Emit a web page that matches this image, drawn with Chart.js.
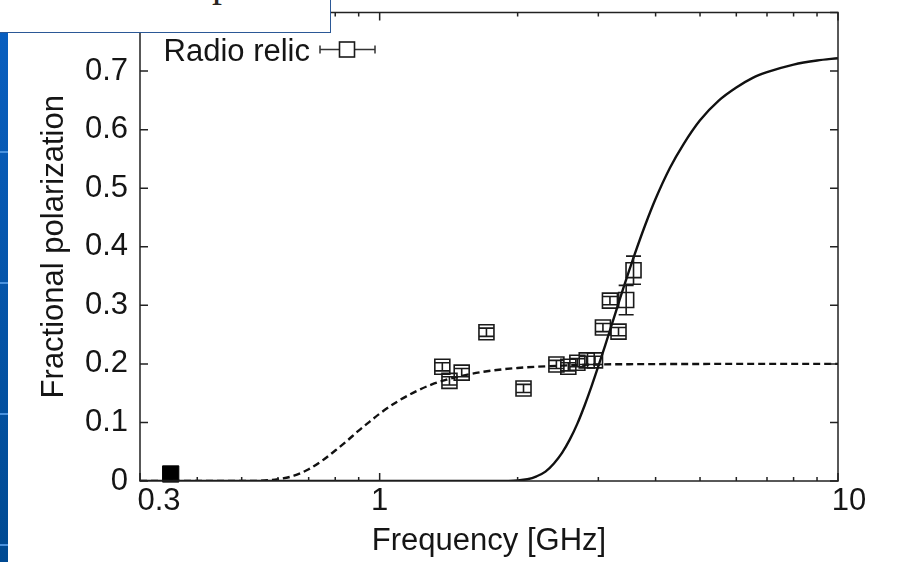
<!DOCTYPE html>
<html>
<head>
<meta charset="utf-8">
<script src="https://cdn.jsdelivr.net/npm/chart.js@4.4.1/dist/chart.umd.min.js"></script>
<style>
html,body{margin:0;padding:0;background:#fff;}
#wrap{position:relative;width:903px;height:562px;overflow:hidden;background:#fff;}
#c{position:absolute;left:0;top:0;}
#strip{position:absolute;left:0;top:0;width:8px;height:562px;z-index:2;
  background-image:repeating-linear-gradient(to bottom, rgba(0,0,0,0) 0px, rgba(0,0,0,0) 20px, #4a92de 20px, #4a92de 22px, rgba(0,0,0,0) 22px, rgba(0,0,0,0) 131px),
  linear-gradient(to bottom, #0a60c2, #004a92);}
#box{position:absolute;left:-1px;top:-1px;width:330px;height:32px;border:1px solid #2b5896;background:#fff;z-index:3;overflow:hidden;}
#box span{position:absolute;left:212px;top:-37px;font-family:"Liberation Serif","Times New Roman",serif;font-size:40px;line-height:40px;color:#2a2520;}
</style>
</head>
<body>
<div id="wrap">
  <canvas id="c" width="903" height="562"></canvas>
  <div id="strip"></div>
  <div id="box"><span>p</span></div>
</div>
<script>
// ---- data ----
const relicFreq = [1.37, 1.42, 1.51, 1.71, 2.06, 2.43, 2.58, 2.70, 2.83, 2.95, 3.07, 3.18, 3.32, 3.45, 3.58];
const relicPol  = [0.195, 0.171, 0.185, 0.254, 0.158, 0.199, 0.195, 0.202, 0.206, 0.206, 0.262, 0.308, 0.255, 0.309, 0.360];
const relicErr  = [0.007, 0.007, 0.007, 0.007, 0.007, 0.007, 0.007, 0.007, 0.007, 0.007, 0.007, 0.007, 0.007, 0.025, 0.024];

const lowFreq = [0.35];
const lowPol  = [0.012];

const solidFreq = [0.3, 1.5, 1.8, 2.0, 2.1, 2.2, 2.3, 2.4, 2.5, 2.6, 2.7, 2.8, 2.9, 3.0, 3.1, 3.2, 3.3, 3.4, 3.5, 3.6, 3.8, 4.0, 4.3, 4.6, 5.0, 5.5, 6.0, 6.5, 7.0, 8.0, 9.0, 10];
const solidPol  = [0, 0, 0, 0.001, 0.003, 0.008, 0.016, 0.030, 0.048, 0.071, 0.098, 0.129, 0.162, 0.196, 0.230, 0.264, 0.297, 0.329, 0.359, 0.387, 0.438, 0.482, 0.535, 0.575, 0.616, 0.650, 0.672, 0.688, 0.698, 0.711, 0.718, 0.722];

const dashFreq = [0.3, 0.5, 0.55, 0.6, 0.65, 0.7, 0.75, 0.8, 0.85, 0.9, 0.95, 1.0, 1.1, 1.2, 1.3, 1.4, 1.5, 1.7, 2.0, 2.5, 3.0, 4.0, 6.0, 10];
const dashPol  = [0, 0, 0.0005, 0.003, 0.009, 0.020, 0.035, 0.052, 0.069, 0.086, 0.101, 0.115, 0.137, 0.153, 0.165, 0.173, 0.179, 0.187, 0.193, 0.197, 0.199, 0.1996, 0.2, 0.2];

const xMajorTicks  = [0.3, 1, 10];
const xMajorLabels = ['0.3', '1', '10'];
const xMinorTicks  = [0.4, 0.5, 0.6, 0.7, 0.8, 0.9, 2, 3, 4, 5, 6, 7, 8, 9];
const yTicks       = [0, 0.1, 0.2, 0.3, 0.4, 0.5, 0.6, 0.7, 0.8];
const yTickLabels  = ['0', '0.1', '0.2', '0.3', '0.4', '0.5', '0.6', '0.7', '0.8'];

const legendLabel = 'Radio relic';
const xTitle = 'Frequency [GHz]';
const yTitle = 'Fractional polarization';

// ---- chart ----
const FONT = '"Liberation Sans", Arial, sans-serif';
const INK = '#151515';
const xLabelShift = [19, 0, 11];

const pts = (xs, ys) => xs.map((v, i) => ({x: v, y: ys[i]}));

const framePlugin = {
  id: 'frame',
  afterDatasetsDraw(chart) {
    const {ctx, chartArea: a, scales: {x, y}} = chart;
    ctx.save();
    const seg = (x1, y1, x2, y2) => { ctx.moveTo(x1, y1); ctx.lineTo(x2, y2); };
    // error bars
    ctx.strokeStyle = '#1a1a1a';
    ctx.lineWidth = 1.6;
    ctx.beginPath();
    relicFreq.forEach((f, i) => {
      const px = x.getPixelForValue(f);
      const t = y.getPixelForValue(relicPol[i] + relicErr[i]);
      const b = y.getPixelForValue(relicPol[i] - relicErr[i]);
      const hw = 7.5;
      seg(px, t, px, b);
      seg(px - hw, t, px + hw, t);
      seg(px - hw, b, px + hw, b);
    });
    ctx.stroke();
    // frame
    ctx.strokeStyle = '#222';
    ctx.lineWidth = 1.5;
    ctx.strokeRect(a.left, a.top, a.right - a.left, a.bottom - a.top);
    ctx.beginPath();
    yTicks.forEach(v => {
      const py = y.getPixelForValue(v);
      seg(a.left, py, a.left + 8, py);
      seg(a.right, py, a.right - 8, py);
    });
    xMajorTicks.forEach(v => {
      const px = x.getPixelForValue(v);
      seg(px, a.bottom, px, a.bottom - 8);
      seg(px, a.top, px, a.top + 8);
    });
    xMinorTicks.forEach(v => {
      const px = x.getPixelForValue(v);
      seg(px, a.bottom, px, a.bottom - 4);
      seg(px, a.top, px, a.top + 4);
    });
    ctx.stroke();
    // x tick labels
    ctx.fillStyle = INK;
    ctx.font = '31px ' + FONT;
    ctx.textAlign = 'center';
    ctx.textBaseline = 'alphabetic';
    xMajorTicks.forEach((v, i) => {
      ctx.fillText(xMajorLabels[i], x.getPixelForValue(v) + xLabelShift[i], a.bottom + 29);
    });
    // legend
    ctx.textAlign = 'right';
    ctx.fillText(legendLabel, 310, 61);
    ctx.strokeStyle = '#333';
    ctx.lineWidth = 1.5;
    ctx.beginPath();
    seg(320, 49.5, 375, 49.5);
    seg(320, 45.5, 320, 53.5);
    seg(375, 45.5, 375, 53.5);
    ctx.stroke();
    ctx.fillStyle = '#fff';
    ctx.fillRect(339.5, 42, 15, 15);
    ctx.strokeStyle = '#1a1a1a';
    ctx.lineWidth = 1.6;
    ctx.strokeRect(339.5, 42, 15, 15);
    ctx.restore();
  }
};

new Chart(document.getElementById('c'), {
  type: 'scatter',
  data: {
    datasets: [
      {data: pts(solidFreq, solidPol), showLine: true, borderColor: '#111', borderWidth: 2.4,
       pointRadius: 0, tension: 0.4, cubicInterpolationMode: 'monotone', fill: false},
      {data: pts(dashFreq, dashPol), showLine: true, borderColor: '#111', borderWidth: 2.4,
       borderDash: [7, 4], pointRadius: 0, tension: 0.4, cubicInterpolationMode: 'monotone', fill: false},
      {data: pts(relicFreq, relicPol), pointStyle: 'rect', pointRadius: 10.6, borderWidth: 1.6,
       borderColor: '#1a1a1a', backgroundColor: 'rgba(0,0,0,0)', clip: false},
      {data: pts(lowFreq, lowPol), pointStyle: 'rect', pointRadius: 11.5, borderWidth: 1,
       borderColor: '#000', backgroundColor: '#000', clip: false}
    ]
  },
  options: {
    responsive: false,
    animation: false,
    devicePixelRatio: 1,
    layout: {padding: {left: 0, right: 65, top: 8, bottom: 0}},
    plugins: {legend: {display: false}, tooltip: {enabled: false}},
    scales: {
      x: {
        type: 'logarithmic', min: 0.3, max: 10, position: 'bottom',
        grid: {display: false}, border: {display: false},
        ticks: {display: false},
        title: {display: true, text: xTitle, color: INK, font: {family: FONT, size: 31}, padding: {top: 0, bottom: 2}},
        afterFit: s => { s.height = 81; s.paddingLeft = 0; s.paddingRight = 0; }
      },
      y: {
        type: 'linear', min: 0, max: 0.8, position: 'left',
        grid: {display: false, drawTicks: false}, border: {display: false},
        afterBuildTicks: s => { s.ticks = yTicks.map(v => ({value: v})); },
        ticks: {color: INK, font: {family: FONT, size: 31}, padding: 12, autoSkip: false,
                callback: (v) => { const i = yTicks.findIndex(t => Math.abs(t - v) < 1e-9); return i >= 0 ? yTickLabels[i] : ''; }},
        title: {display: true, text: yTitle, color: INK, font: {family: FONT, size: 31}, padding: {top: 36, bottom: 0}},
        afterFit: s => { s.width = 140; s.paddingTop = 0; s.paddingBottom = 0; }
      }
    }
  },
  plugins: [framePlugin]
});
</script>
</body>
</html>
